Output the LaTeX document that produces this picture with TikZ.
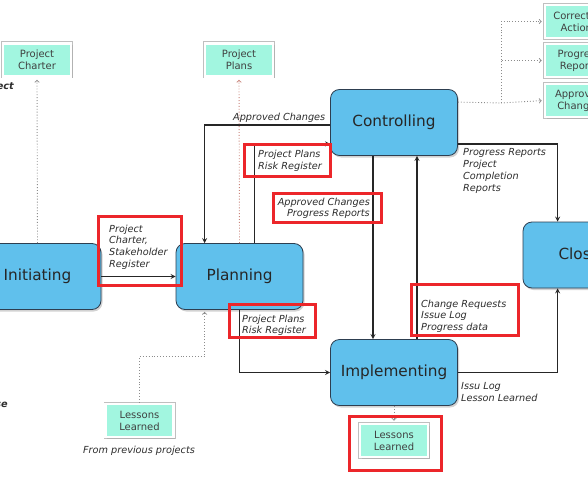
\documentclass[tikz,border=0pt]{standalone}
\usepackage{fontspec}
\setmainfont{DejaVu Sans}
\usetikzlibrary{calc,shadows}
\definecolor{phaseblue}{RGB}{96,192,236}
\definecolor{phaseedge}{RGB}{45,62,80}
\definecolor{docgreen}{RGB}{162,246,224}
\definecolor{hlred}{RGB}{236,38,42}
\definecolor{notegray}{RGB}{45,45,45}
\definecolor{dotgray}{RGB}{140,140,140}
\definecolor{dotred}{RGB}{200,130,120}

\begin{document}
\begin{tikzpicture}[x=1pt,y=-1pt]
%define
\tikzstyle{state_b} = [rectangle, rounded corners=9pt, minimum width=127pt, minimum height=66pt, text centered, draw=phaseedge, line width=0.8pt, fill=phaseblue, text=black!85, font=\fontsize{15.3}{18}\selectfont, drop shadow={opacity=0.35, shadow xshift=1.5pt, shadow yshift=-2pt}]
\tikzstyle{state_g} = [rectangle, minimum width=68pt, minimum height=33pt, align=center, fill=docgreen, draw=white, line width=2.6pt, preaction={draw=gray!50, line width=4pt}, text=black!75, font=\fontsize{10}{12}\selectfont, drop shadow={opacity=0.2, shadow xshift=1.5pt, shadow yshift=-1.5pt}]
\tikzstyle{arrow} = [->, >=stealth, line width=1.2pt, black!85]
\tikzstyle{arrowd} = [->, >=to, dotted, dotgray, line width=0.9pt, shorten >=2pt]
\tikzstyle{arrowr} = [arrowd, dotred]
\tikzstyle{note} = [inner sep=0pt, align=left, text=notegray, font=\fontsize{9.7}{11.8}\selectfont\itshape]
\tikzstyle{hl_r} = [draw=hlred, line width=2.8pt]

\useasboundingbox(0,0)rectangle(588,476);
\clip(0,0)rectangle(588,476);
\fill[white](0,0)rectangle(588,476);

%phases
\node[state_b](state_Init) at (37.5,276.5){Initiating};
\node[state_b](state_Plan) at (239.5,276.5){Planning};
\node[state_b](state_Ctrl) at (394,122.5){Controlling};
\node[state_b](state_Impl) at (394,372.5){Implementing};
\node[state_b](state_Close) at (586.5,255){Closing};
%documents
\node[state_g](doc_Charter) at (37,60){Project\\Charter};
\node[state_g](doc_Plans) at (239,60){Project\\Plans};
\node[state_g](doc_Correct) at (579,21.5){Corrective\\Actions};
\node[state_g](doc_Progress) at (579,60.5){Progress\\Reports};
\node[state_g](doc_Approved) at (579,100.5){Approved\\Changes};
\node[state_g](doc_LessonsA) at (139.5,420.5){Lessons\\Learned};
\node[state_g](doc_LessonsB) at (394,440.5){Lessons\\Learned};
\coordinate(split) at (501,103);

%line
\draw[arrow](state_Init)--(state_Plan);
\draw[arrow]($(state_Ctrl.west)+(0,2.5)$)-|($(state_Plan.north west)+(29,0)$); %Controlling->Planning
\draw[arrow]($(state_Plan.north)+(15,0)$)|-($(state_Ctrl.south west)+(0,-12)$); %Planning->Controlling
\draw[arrow]($(state_Ctrl.south)+(-21,0)$)--($(state_Impl.north)+(-21,0)$);
\draw[arrow]($(state_Impl.north)+(23,0)$)--($(state_Ctrl.south)+(23,0)$);
\draw[arrow]($(state_Ctrl.south east)+(0,-12)$)-|($(state_Close.north west)+(35,0)$); %Controlling->Closing
\draw[arrow](state_Impl.east)-|($(state_Close.south west)+(35,0)$); %Implementing->Closing
\draw[arrow](state_Plan.south)|-(state_Impl.west); %Planning->Implementing
%dotted
\draw[arrowd](state_Init.north)--(doc_Charter.south);
\draw[arrowr](state_Plan.north)--(doc_Plans.south);
\draw[dotgray, dotted, line width=0.9pt]($(state_Ctrl.north east)+(0,13)$)--(split);
\draw[arrowd](split)|-(doc_Correct.west);
\draw[arrowd](split)|-(doc_Progress.west);
\draw[arrowd](split)--(doc_Approved.west);
\draw[arrowd](doc_LessonsA.north)--++(0,-46)-|($(state_Plan.south west)+(29,0)$);
\draw[arrowd](state_Impl.south)--(doc_LessonsB.north);

%labels
\node[note, anchor=north west](lbl_CtrlPlan) at (233,112.5){Approved Changes};
\node[note, anchor=north west](lbl_PlanCtrl) at (258,150){Project Plans\\Risk Register};
\node[note, anchor=north east, align=right](lbl_CtrlImpl) at (370,197.5){Approved Changes\\Progress Reports};
\node[note, anchor=north west](lbl_CtrlClose) at (463,148.5){Progress Reports\\Project\\Completion\\Reports};
\node[note, anchor=north west](lbl_InitPlan) at (109,224.5){Project\\Charter,\\Stakeholder\\Register};
\node[note, anchor=north west](lbl_PlanImpl) at (242,314.5){Project Plans\\Risk Register};
\node[note, anchor=north west](lbl_ImplCtrl) at (421,299.5){Change Requests\\Issue Log\\Progress data};
\node[note, anchor=north west](lbl_ImplClose) at (461,382.5){Issu Log\\Lesson Learned};
\node[note, anchor=north](lbl_Previous) at (139,445.5){From previous projects};
\node[note, anchor=north east, font=\fontsize{9.7}{11.8}\selectfont\bfseries\itshape](lbl_EdgeA) at (14,82.5){ect};
\node[note, anchor=north east, font=\fontsize{9.7}{11.8}\selectfont\bfseries\itshape](lbl_EdgeB) at (8,401.5){se};

%highlight
\draw[hl_r](98.5,216.5)rectangle(181.5,285.5);
\draw[hl_r](244.5,144.5)rectangle(330.5,176.5);
\draw[hl_r](273.5,193.5)rectangle(381.5,222.5);
\draw[hl_r](229.5,304.5)rectangle(315.5,337.5);
\draw[hl_r](411.5,284.5)rectangle(518.5,335.5);
\draw[hl_r](349.5,416.5)rectangle(441.5,470.5);

\end{tikzpicture}
\end{document}
